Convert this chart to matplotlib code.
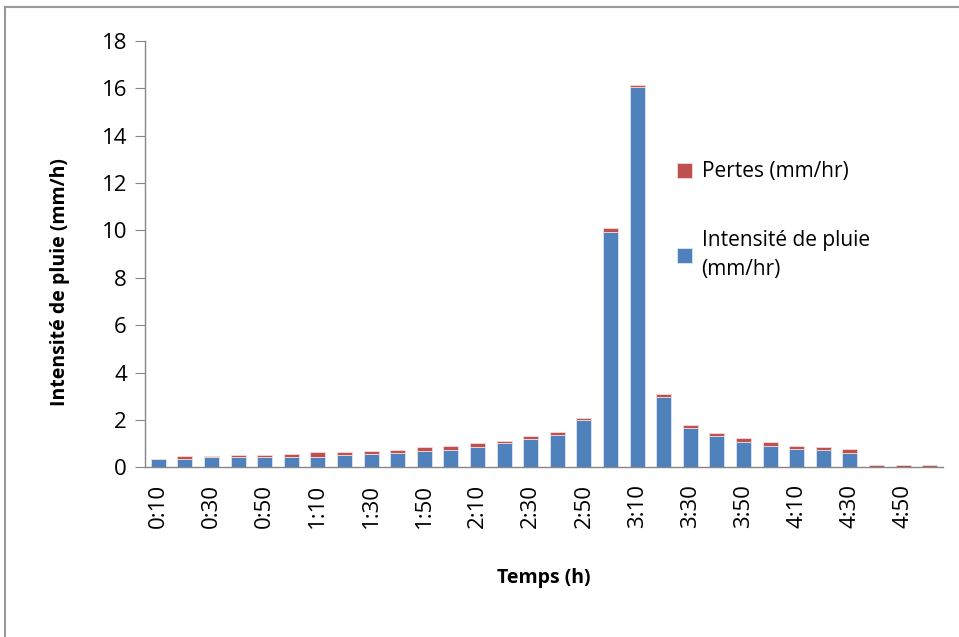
import numpy as np
import matplotlib
matplotlib.use('Agg')
import matplotlib.pyplot as plt
from matplotlib.lines import Line2D

# pas de temps de 10 min, de 0:10 à 5:00
temps = ['0:10', '0:20', '0:30', '0:40', '0:50', '1:00', '1:10', '1:20', '1:30', '1:40',
         '1:50', '2:00', '2:10', '2:20', '2:30', '2:40', '2:50', '3:00', '3:10', '3:20',
         '3:30', '3:40', '3:50', '4:00', '4:10', '4:20', '4:30', '4:40', '4:50', '5:00']
intensite = [0.34, 0.34, 0.42, 0.42, 0.42, 0.45, 0.45, 0.52, 0.58, 0.62,
             0.69, 0.75, 0.85, 1.02, 1.19, 1.38, 1.99, 9.92, 16.04, 2.98,
             1.67, 1.34, 1.06, 0.90, 0.79, 0.73, 0.62, 0.0, 0.0, 0.0]
pertes = [0.0, 0.13, 0.05, 0.10, 0.10, 0.13, 0.20, 0.12, 0.11, 0.11,
          0.17, 0.15, 0.18, 0.10, 0.15, 0.12, 0.10, 0.16, 0.11, 0.10,
          0.11, 0.11, 0.17, 0.17, 0.11, 0.12, 0.17, 0.08, 0.08, 0.08]

bleu = '#4F81BD'
rouge = '#C0504D'
gris = '#868686'

plt.rcParams['font.family'] = ['Open Sans', 'DejaVu Sans']

fig = plt.figure(figsize=(9.59, 6.37), dpi=100)
ax = fig.add_axes([0.1512, 0.2664, 0.8321, 0.6697])

x = np.arange(len(temps))
b1 = ax.bar(x, intensite, width=0.57, color=bleu, edgecolor='#dce6f2', linewidth=0.6)
b2 = ax.bar(x, pertes, width=0.57, bottom=intensite, color=rouge, edgecolor='#f2dcdb', linewidth=0.6)

ax.set_xlim(-0.5, len(temps) - 0.5)
ax.set_ylim(0, 18)
ax.set_yticks(range(0, 19, 2))
ax.set_xticks(x[::2])
ax.set_xticklabels(temps[::2], rotation=90, fontsize=16)
ax.tick_params(axis='y', labelsize=16, length=7, color=gris, pad=6)
ax.tick_params(axis='x', length=0, pad=12)

for s in ['top', 'right']:
    ax.spines[s].set_visible(False)
for s in ['left', 'bottom']:
    ax.spines[s].set_color(gris)
    ax.spines[s].set_linewidth(1.0)

ax.set_ylabel('Intensité de pluie (mm/h)', fontsize=14, fontweight='bold')
ax.set_xlabel('Temps (h)', fontsize=14, fontweight='bold')
ax.yaxis.set_label_coords(-0.094, 0.434)
ax.xaxis.set_label_coords(0.5, -0.235)

leg = ax.legend([b2, b1], ['Pertes (mm/hr)', 'Intensité de pluie\n(mm/hr)'],
                loc='upper left', bbox_to_anchor=(0.686, 0.776), bbox_transform=fig.transFigure,
                frameon=False, fontsize=15, labelspacing=2.3, handlelength=0.75,
                handleheight=0.75, handletextpad=0.45)
for t in leg.get_texts():
    t.set_linespacing(1.45)

# cadre gris du graphique
fig.add_artist(Line2D([0.005, 1.0], [0.989, 0.989], color='#999999', linewidth=1.5))
fig.add_artist(Line2D([0.005, 0.005], [0.0, 0.989], color='#999999', linewidth=1.5))

fig.savefig('out.png', dpi=100)
